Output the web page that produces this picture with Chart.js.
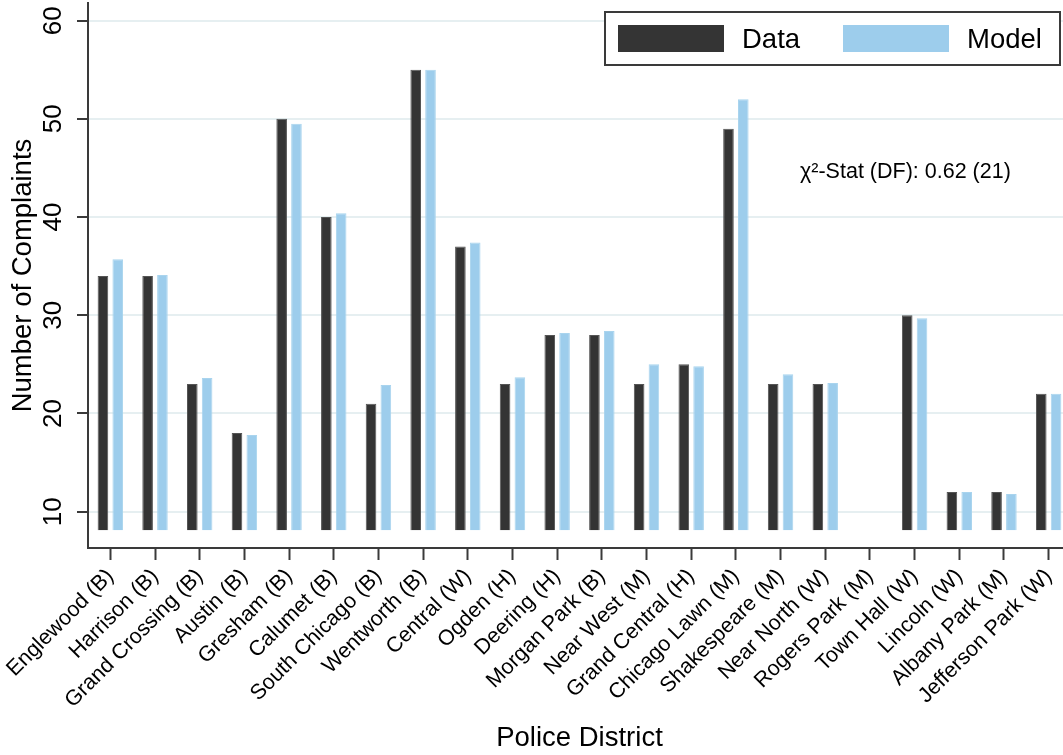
<!DOCTYPE html>
<html>
<head>
<meta charset="utf-8">
<script src="https://cdn.jsdelivr.net/npm/chart.js@4/dist/chart.umd.min.js"></script>
<style>
  html, body { margin: 0; padding: 0; background: #fff; overflow: hidden; }
  #wrap { position: relative; width: 1071px; height: 755px; }
</style>
</head>
<body>
<div id="wrap"><canvas id="chart"></canvas></div>
<script>
const districts = [
  'Englewood (B)', 'Harrison (B)', 'Grand Crossing (B)', 'Austin (B)', 'Gresham (B)',
  'Calumet (B)', 'South Chicago (B)', 'Wentworth (B)', 'Central (W)', 'Ogden (H)',
  'Deering (H)', 'Morgan Park (B)', 'Near West (M)', 'Grand Central (H)', 'Chicago Lawn (M)',
  'Shakespeare (M)', 'Near North (W)', 'Rogers Park (M)', 'Town Hall (W)', 'Lincoln (W)',
  'Albany Park (M)', 'Jefferson Park (W)'
];
const dataValues = [34, 34, 23, 18, 50, 40, 21, 55, 37, 23, 28, 28, 23, 25, 49, 23, 23, null, 30, 12, 12, 22];
const modelValues = [35.7, 34.1, 23.6, 17.8, 49.5, 40.4, 22.9, 55, 37.4, 23.7, 28.2, 28.4, 25.0, 24.8, 52.0, 24.0, 23.1, null, 29.7, 12.0, 11.8, 22.0];
const yTickValues = [10, 20, 30, 40, 50, 60];
const statText = 'χ²-Stat (DF): 0.62 (21)';

const fontFamily = '"Liberation Sans", Arial, Helvetica, sans-serif';
Chart.defaults.font.family = fontFamily;
Chart.defaults.color = '#000';

const axisColor = '#3a3a3a';
const gridColor = '#e6eff1';

// y tick labels are drawn rotated, reading bottom to top
const yLabels = {
  id: 'yLabels',
  afterDraw(chart) {
    const { ctx } = chart;
    const y = chart.scales.y;
    ctx.save();
    ctx.fillStyle = '#000';
    ctx.font = `26px ${fontFamily}`;
    ctx.textAlign = 'center';
    ctx.textBaseline = 'middle';
    y.ticks.forEach((tick) => {
      const py = y.getPixelForValue(tick.value);
      ctx.save();
      ctx.translate(54, py);
      ctx.rotate(-Math.PI / 2);
      ctx.fillText(String(tick.value), 0, 0);
      ctx.restore();
    });
    ctx.restore();
  },
};

// boxed legend inside the plot plus the statistic note
const boxLegend = {
  id: 'boxLegend',
  afterDatasetsDraw(chart) {
    const { ctx } = chart;
    ctx.save();
    ctx.fillStyle = '#fff';
    ctx.fillRect(605, 12, 455, 53);
    ctx.strokeStyle = axisColor;
    ctx.lineWidth = 2;
    ctx.strokeRect(605, 12, 455, 53);

    ctx.font = `27.5px ${fontFamily}`;
    ctx.textBaseline = 'middle';
    ctx.textAlign = 'left';
    const starts = [618, 843];
    chart.data.datasets.forEach((ds, i) => {
      const x = starts[i];
      ctx.fillStyle = ds.backgroundColor;
      ctx.fillRect(x, 25, 106, 27);
      ctx.fillStyle = '#000';
      ctx.fillText(ds.label, x + 124, 40);
    });

    ctx.font = `21.5px ${fontFamily}`;
    ctx.fillText(statText, 800, 172);
    ctx.restore();
  },
};

new Chart(document.getElementById('chart'), {
  type: 'bar',
  data: {
    labels: districts,
    datasets: [
      {
        label: 'Data',
        data: dataValues,
        backgroundColor: '#343434',
        borderColor: '#555555',
        borderWidth: 1,
        base: 8.1,
      },
      {
        label: 'Model',
        data: modelValues,
        backgroundColor: '#9dcdec',
        borderColor: '#a9d4ee',
        borderWidth: 1,
        base: 8.1,
      },
    ],
  },
  options: {
    responsive: true,
    maintainAspectRatio: false,
    animation: false,
    categoryPercentage: 0.663,
    barPercentage: 0.716,
    layout: { padding: { top: 3, left: 0, right: 0, bottom: 0 } },
    plugins: {
      legend: { display: false },
      tooltip: { enabled: false },
    },
    scales: {
      x: {
        grid: {
          offset: false,
          drawOnChartArea: false,
          drawTicks: true,
          tickLength: 12,
          tickColor: axisColor,
          tickWidth: 2,
        },
        border: { color: axisColor, width: 2 },
        ticks: {
          autoSkip: false,
          minRotation: 45,
          maxRotation: 45,
          padding: 4,
          color: '#000',
          font: { size: 21.5 },
        },
        title: {
          display: true,
          text: 'Police District',
          color: '#000',
          font: { size: 27.5 },
          padding: { top: 0, bottom: 0 },
        },
        afterFit(scale) {
          scale.height = 207;
        },
      },
      y: {
        min: 6.3,
        max: 61.8,
        afterBuildTicks(scale) {
          scale.ticks = yTickValues.map((v) => ({ value: v }));
        },
        grid: {
          color: gridColor,
          lineWidth: 2,
          drawTicks: true,
          tickLength: 11,
          tickColor: axisColor,
          tickWidth: 2,
        },
        border: { color: axisColor, width: 2 },
        ticks: { display: false },
        title: {
          display: true,
          text: 'Number of Complaints',
          color: '#000',
          font: { size: 27.5 },
          padding: { top: 7, bottom: 0 },
        },
        afterFit(scale) {
          scale.width = 88;
        },
      },
    },
  },
  plugins: [yLabels, boxLegend],
});
</script>
</body>
</html>
